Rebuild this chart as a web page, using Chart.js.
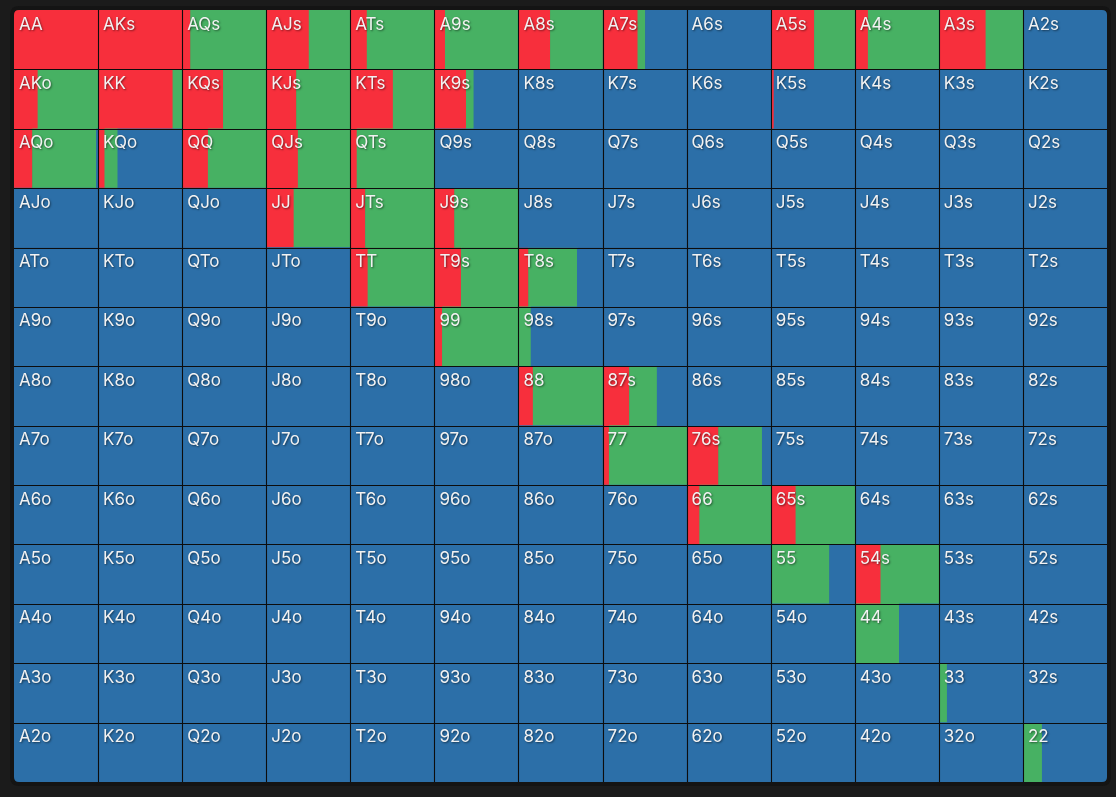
<!DOCTYPE html>
<html>
<head>
<meta charset="utf-8">
<script src="https://cdn.jsdelivr.net/npm/chart.js@4/dist/chart.umd.min.js"></script>
<style>
  html, body { margin: 0; padding: 0; background: #1b1b1b; }
  #wrap { width: 1116px; height: 797px; position: relative; }
</style>
</head>
<body>
<div id="wrap"><canvas id="c" width="1116" height="797"></canvas></div>
<script>
// Ranks (row / column order)
const ranks = ['A','K','Q','J','T','9','8','7','6','5','4','3','2'];

// Fraction of each hand that is raised (red)
const raise = [
  [1.00,1.00,0.10,0.51,0.20,0.13,0.38,0.42,0,0.52,0.16,0.56,0],
  [0.285,0.89,0.49,0.36,0.51,0.38,0,0,0,0.04,0,0,0],
  [0.22,0.08,0.31,0.38,0.08,0,0,0,0,0,0,0,0],
  [0,0,0,0.33,0.18,0.24,0,0,0,0,0,0,0],
  [0,0,0,0,0.21,0.32,0.12,0,0,0,0,0,0],
  [0,0,0,0,0,0.095,0,0,0,0,0,0,0],
  [0,0,0,0,0,0,0.175,0.32,0,0,0,0,0],
  [0,0,0,0,0,0,0,0.08,0.38,0,0,0,0],
  [0,0,0,0,0,0,0,0,0.155,0.30,0,0,0],
  [0,0,0,0,0,0,0,0,0,0,0.31,0,0],
  [0,0,0,0,0,0,0,0,0,0,0,0,0],
  [0,0,0,0,0,0,0,0,0,0,0,0,0],
  [0,0,0,0,0,0,0,0,0,0,0,0,0]
];

// Fraction of each hand that is called (green)
const call = [
  [0,0,0.90,0.49,0.80,0.87,0.62,0.09,0,0.48,0.84,0.44,0],
  [0.715,0.11,0.51,0.64,0.49,0.09,0,0,0,0,0,0,0],
  [0.76,0.155,0.69,0.62,0.92,0,0,0,0,0,0,0,0],
  [0,0,0,0.67,0.82,0.76,0,0,0,0,0,0,0],
  [0,0,0,0,0.79,0.68,0.58,0,0,0,0,0,0],
  [0,0,0,0,0,0.905,0.15,0,0,0,0,0,0],
  [0,0,0,0,0,0,0.825,0.33,0,0,0,0,0],
  [0,0,0,0,0,0,0,0.92,0.52,0,0,0,0],
  [0,0,0,0,0,0,0,0,0.845,0.70,0,0,0],
  [0,0,0,0,0,0,0,0,0,0.70,0.69,0,0],
  [0,0,0,0,0,0,0,0,0,0,0.53,0,0],
  [0,0,0,0,0,0,0,0,0,0,0,0.10,0],
  [0,0,0,0,0,0,0,0,0,0,0,0,0.23]
];

const RED = '#f72f3c', GREEN = '#47b163', BLUE = '#2c6fa8';

function handLabel(r, c) {
  if (r === c) return ranks[r] + ranks[c];
  if (c > r) return ranks[r] + ranks[c] + 's';
  return ranks[c] + ranks[r] + 'o';
}

const datasets = [];
for (let c = 0; c < 13; c++) {
  const red = [], green = [], blue = [];
  for (let r = 0; r < 13; r++) {
    const a = raise[r][c], b = call[r][c];
    red.push(a > 0 ? [c, c + a] : null);
    green.push(b > 0 ? [c + a, c + a + b] : null);
    blue.push(a + b < 1 ? [c + a + b, c + 1] : null);
  }
  datasets.push({ data: blue, backgroundColor: BLUE });
  datasets.push({ data: green, backgroundColor: GREEN });
  datasets.push({ data: red, backgroundColor: RED });
}

function roundRectPath(ctx, x, y, w, h, r) {
  ctx.beginPath();
  ctx.moveTo(x + r, y);
  ctx.lineTo(x + w - r, y);
  ctx.quadraticCurveTo(x + w, y, x + w, y + r);
  ctx.lineTo(x + w, y + h - r);
  ctx.quadraticCurveTo(x + w, y + h, x + w - r, y + h);
  ctx.lineTo(x + r, y + h);
  ctx.quadraticCurveTo(x, y + h, x, y + h - r);
  ctx.lineTo(x, y + r);
  ctx.quadraticCurveTo(x, y, x + r, y);
  ctx.closePath();
}

const gridPlugin = {
  id: 'gridPlugin',
  beforeDraw(chart) {
    const { ctx, chartArea: a } = chart;
    ctx.save();
    ctx.fillStyle = '#141414';
    roundRectPath(ctx, a.left - 4, a.top - 4, a.right - a.left + 8, a.bottom - a.top + 8, 9);
    ctx.fill();
    ctx.restore();
  },
  beforeDatasetsDraw(chart) {
    const { ctx, chartArea: a } = chart;
    ctx.save();
    roundRectPath(ctx, a.left, a.top, a.right - a.left, a.bottom - a.top, 5);
    ctx.clip();
  },
  afterDatasetsDraw(chart) {
    const { ctx, chartArea: a, scales } = chart;
    const xs = scales.x, ys = scales.y;
    ctx.strokeStyle = '#0d0d0d';
    ctx.lineWidth = 1.1;
    ctx.beginPath();
    for (let c = 1; c < 13; c++) {
      const x = Math.round(xs.getPixelForValue(c)) + 0.5;
      ctx.moveTo(x, a.top); ctx.lineTo(x, a.bottom);
    }
    const h = (a.bottom - a.top) / 13;
    for (let r = 1; r < 13; r++) {
      const y = Math.round(ys.getPixelForValue(r) - h / 2) + 0.5;
      ctx.moveTo(a.left, y); ctx.lineTo(a.right, y);
    }
    ctx.stroke();
    ctx.restore();

    // hand labels
    ctx.save();
    ctx.font = '400 17px Inter, "Open Sans", sans-serif';
    ctx.fillStyle = '#f2f2f2';
    ctx.textBaseline = 'alphabetic';
    ctx.textAlign = 'left';
    ctx.shadowColor = 'rgba(0,0,0,0.5)';
    ctx.shadowBlur = 2;
    ctx.shadowOffsetX = 1;
    ctx.shadowOffsetY = 1;
    for (let r = 0; r < 13; r++) {
      const top = ys.getPixelForValue(r) - h / 2;
      for (let c = 0; c < 13; c++) {
        const left = xs.getPixelForValue(c);
        ctx.fillText(handLabel(r, c), left + 5, top + 19.5);
      }
    }
    ctx.restore();
  }
};

new Chart(document.getElementById('c'), {
  type: 'bar',
  data: { labels: ranks, datasets },
  options: {
    indexAxis: 'y',
    responsive: false,
    animation: false,
    layout: { padding: { left: 14, right: 9, top: 10, bottom: 15 } },
    datasets: { bar: { grouped: false, categoryPercentage: 1, barPercentage: 1, borderWidth: 0, borderSkipped: false } },
    scales: {
      x: { type: 'linear', min: 0, max: 13, display: false },
      y: { type: 'category', display: false, offset: true }
    },
    plugins: { legend: { display: false }, tooltip: { enabled: false } }
  },
  plugins: [gridPlugin]
});
</script>
</body>
</html>
